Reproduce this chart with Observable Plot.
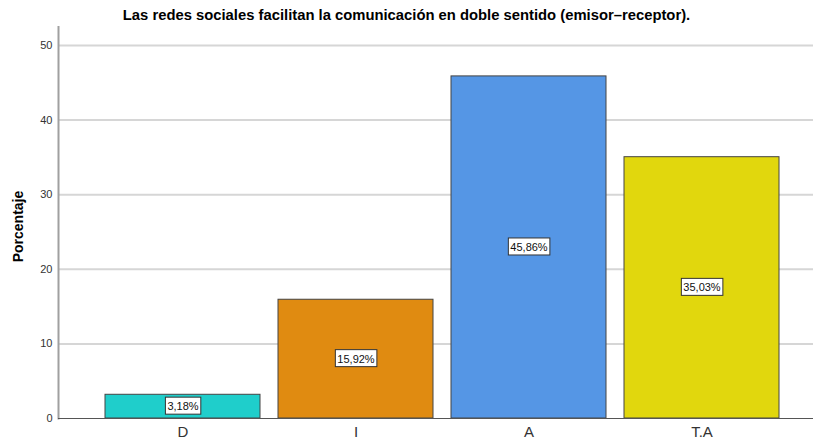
<!DOCTYPE html>
<html>
<head>
<meta charset="utf-8">
<script src="https://cdn.jsdelivr.net/npm/d3@7"></script>
<script src="https://cdn.jsdelivr.net/npm/@observablehq/plot@0.6"></script>
<style>
  body { margin: 0; background: #fff; font-family: "Liberation Sans", Arial, sans-serif; }
  #title { height: 26px; line-height: 30px; text-align: center; font-weight: bold; font-size: 14.8px; color: #000; width: 813px; }
  #chart svg { display: block; }
</style>
</head>
<body>
<div id="title">Las redes sociales facilitan la comunicación en doble sentido (emisor–receptor).</div>
<div id="chart"></div>
<script>
const categories = ["D", "I", "A", "T.A"];
const percentages = [3.18, 15.92, 45.86, 35.03];
const labels = ["3,18%", "15,92%", "45,86%", "35,03%"];
const colors = ["#1fcecb", "#e08b11", "#5596e5", "#e1d70d"];
const yTicks = [0, 10, 20, 30, 40, 50];

const data = categories.map((c, i) => ({cat: c, pct: percentages[i], label: labels[i], color: colors[i]}));

const plot = Plot.plot({
  width: 813,
  height: 418,
  marginLeft: 58,
  marginRight: 0,
  marginTop: 0,
  marginBottom: 26,
  style: {fontFamily: "'Liberation Sans', Arial, sans-serif", background: "#fff"},
  x: {domain: categories, paddingInner: 0.104, paddingOuter: 0.234, align: 0.58, label: null},
  y: {domain: [0, 52.55], label: null},
  marks: [
    Plot.gridY(yTicks.filter(t => t > 0), {stroke: "#d6d6d6", strokeOpacity: 1, strokeWidth: 2}),
    Plot.frame({anchor: "left", stroke: "#a0a0a0", strokeWidth: 2}),
    Plot.barY(data, {x: "cat", y: "pct", fill: "color", stroke: "#444", strokeWidth: 1}),
    Plot.ruleY([0], {stroke: "#555", strokeWidth: 1.2}),
    Plot.axisY({ticks: yTicks, tickSize: 0, tickPadding: 6, fontSize: 11, fill: "#333", label: null}),
    Plot.axisX({tickSize: 0, tickPadding: 8, fontSize: 15, fill: "#333", label: null}),
    Plot.text(["Porcentaje"], {text: d => d, frameAnchor: "left", textAnchor: "middle", rotate: -90, dx: -40, dy: 4, fontSize: 14, fontWeight: "bold", fill: "#000"}),
    Plot.text(data, {x: "cat", y: d => d.pct / 2, text: "label", fontSize: 11, fill: "#111"})
  ]
});

document.getElementById("chart").appendChild(plot);

// white boxes behind the value labels
const svgNS = "http://www.w3.org/2000/svg";
plot.querySelectorAll("text").forEach(t => {
  if (!/%$/.test(t.textContent)) return;
  const b = t.getBBox();
  const r = document.createElementNS(svgNS, "rect");
  r.setAttribute("x", b.x - 2);
  r.setAttribute("y", b.y - 3);
  r.setAttribute("width", b.width + 4);
  r.setAttribute("height", b.height + 5);
  r.setAttribute("fill", "#fff");
  r.setAttribute("stroke", "#333");
  r.setAttribute("stroke-width", "1");
  const tr = t.getAttribute("transform");
  if (tr) r.setAttribute("transform", tr);
  t.parentNode.insertBefore(r, t);
});
</script>
</body>
</html>
